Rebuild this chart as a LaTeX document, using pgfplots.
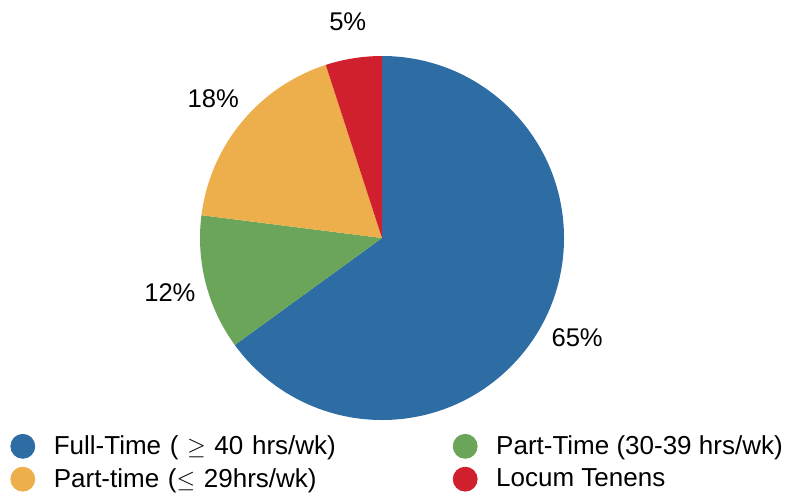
\documentclass[border=0pt]{standalone}
\usepackage{pgfplots}
\pgfplotsset{compat=1.18}
\usepackage{pgfplotstable}
\usepackage{fontspec}
\setmainfont{Liberation Sans}

\definecolor{ftblue}{HTML}{2E6DA4}
\definecolor{ptgreen}{HTML}{6BA55A}
\definecolor{ptorange}{HTML}{EDAF4B}
\definecolor{locred}{HTML}{D0202E}

% share of each employment type, in percent (clockwise from 12 o'clock)
\pgfplotstableread{
share
65
12
18
5
}\sharetable

\pgfplotstablegetelem{0}{share}\of\sharetable \let\sA\pgfplotsretval
\pgfplotstablegetelem{1}{share}\of\sharetable \let\sB\pgfplotsretval
\pgfplotstablegetelem{2}{share}\of\sharetable \let\sC\pgfplotsretval
\pgfplotstablegetelem{3}{share}\of\sharetable \let\sD\pgfplotsretval

\pgfmathsetmacro\aZ{90}
\pgfmathsetmacro\aA{\aZ-3.6*\sA}
\pgfmathsetmacro\aB{\aA-3.6*\sB}
\pgfmathsetmacro\aC{\aB-3.6*\sC}
\pgfmathsetmacro\aD{\aC-3.6*\sD}
\pgfmathsetmacro\mA{(\aZ+\aA)/2}
\pgfmathsetmacro\mB{(\aA+\aB)/2}
\pgfmathsetmacro\mC{(\aB+\aC)/2}
\pgfmathsetmacro\mD{(\aC+\aD)/2}

\def\rpie{91pt}
\def\rlab{109.5pt}

\begin{document}
\begin{tikzpicture}
\begin{axis}[
    scale only axis,
    width=397.5pt, height=247.5pt,
    xmin=0, xmax=795, ymin=0, ymax=495,
    hide axis,
    clip=false,
    legend columns=2,
    legend cell align=left,
    legend image code/.code={\fill[#1] (0pt,0pt) circle (6pt);},
    legend style={
        draw=none, fill=none, inner sep=0pt,
        at={(axis cs:10,64)}, anchor=north west,
        font=\fontsize{13}{15}\selectfont,
        row sep=1.5pt,
        /tikz/every odd column/.append style={column sep=7.3pt},
        /tikz/column 2/.append style={text width=197.5pt},
    },
]
\path (rel axis cs:0,0) rectangle (rel axis cs:1,1);

\fill[ftblue]   (axis cs:382,257) -- ++(\aZ:\rpie) arc[start angle=\aZ, end angle=\aA, radius=\rpie] -- cycle;
\fill[ptgreen]  (axis cs:382,257) -- ++(\aA:\rpie) arc[start angle=\aA, end angle=\aB, radius=\rpie] -- cycle;
\fill[ptorange] (axis cs:382,257) -- ++(\aB:\rpie) arc[start angle=\aB, end angle=\aC, radius=\rpie] -- cycle;
\fill[locred]   (axis cs:382,257) -- ++(\aC:\rpie) arc[start angle=\aC, end angle=\aD, radius=\rpie] -- cycle;

\begin{scope}[every node/.style={font=\fontsize{12.8}{15}\selectfont}]
\node at ([shift={(\mA:\rlab)}]axis cs:382,257) {65\%};
\node at ([shift={(\mB:\rlab)}]axis cs:382,257) {12\%};
\node at ([shift={(\mC:\rlab)}]axis cs:382,257) {18\%};
\node at ([shift={(\mD:\rlab)}]axis cs:382,257) {5\%};
\end{scope}

\addlegendimage{ftblue}
\addlegendentry{Full-Time ( $\geq$ 40 hrs/wk)}
\addlegendimage{ptgreen}
\addlegendentry{Part-Time (30-39 hrs/wk)}
\addlegendimage{ptorange}
\addlegendentry{Part-time ($\leq$ 29hrs/wk)}
\addlegendimage{locred}
\addlegendentry{Locum Tenens}
\end{axis}
\end{tikzpicture}
\end{document}
